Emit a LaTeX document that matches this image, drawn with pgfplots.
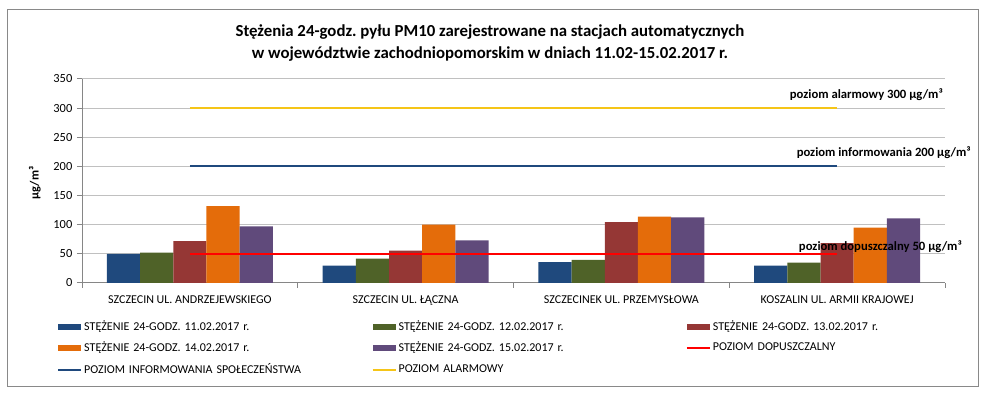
\documentclass[border=0pt]{standalone}
\usepackage{pgfplots}
\pgfplotsset{compat=1.18}
\usepackage{fontspec}
\setmainfont{Carlito}
\definecolor{c1}{HTML}{1F497D}
\definecolor{c2}{HTML}{4F6228}
\definecolor{c3}{HTML}{953735}
\definecolor{c4}{HTML}{E46C0A}
\definecolor{c5}{HTML}{604A7B}
\definecolor{lred}{HTML}{FF0000}
\definecolor{lblue}{HTML}{1F497D}
\definecolor{lyel}{HTML}{F5C518}
\definecolor{framec}{HTML}{898989}
\definecolor{axisc}{HTML}{868686}
\definecolor{gridc}{HTML}{C0C0C0}
\begin{document}
\frenchspacing
\begin{tikzpicture}[x=0.75pt,y=0.75pt]
\useasboundingbox (0,0) rectangle (988,399);
\draw[framec, line width=0.75pt] (7,12) rectangle (978,389);
\node[font=\bfseries\fontsize{12.6}{16.5}\selectfont, align=center] at (490,356) {Stężenia 24-godz. pyłu PM10 zarejestrowane na stacjach automatycznych\\ w województwie zachodniopomorskim w dniach 11.02-15.02.2017 r.};
\begin{axis}[
  at={(61.5pt,87pt)}, anchor=south west,
  width=647.25pt, height=153pt, scale only axis,
  xmin=-0.5, xmax=3.5, ymin=0, ymax=350,
  ytick={0,50,...,350},
  xtick={-0.5,0.5,1.5,2.5,3.5}, xticklabels={},
  extra x ticks={0,1,2,3},
  extra x tick labels={SZCZECIN UL. ANDRZEJEWSKIEGO, SZCZECIN UL. ŁĄCZNA, SZCZECINEK UL. PRZEMYSŁOWA, KOSZALIN UL. ARMII KRAJOWEJ},
  extra x tick style={major tick length=0pt, grid=none},
  axis lines*=left,
  axis line style={draw=axisc, line width=0.75pt},
  tick align=outside,
  major tick length=3.75pt,
  tick style={draw=axisc, line width=0.75pt},
  ymajorgrids, grid style={draw=gridc, line width=0.75pt},
  /pgf/number format/assume math mode=true,
  yticklabel style={font=\fontsize{9.3}{10}\selectfont},
  xticklabel style={font=\fontsize{9}{10}\selectfont, yshift=-6pt},
  ylabel={\textbf{µg/m³}},
  ylabel style={at={(axis description cs:-0.0545,0.49)}, anchor=center, font=\fontsize{9.3}{10}\selectfont},
  clip=false,
  legend columns=3,
  legend cell align=left,
  legend style={draw=none, fill=none, inner sep=0pt,
    at={(axis description cs:-0.0290,-0.17)}, anchor=north west,
    font=\fontsize{9}{10}\selectfont,
    row sep=3.3pt,
    nodes={text width=214pt, inner xsep=1.5pt}},
  barleg/.style={legend image code/.code={\fill[##1] (0pt,-2.25pt) rectangle (17.25pt,2.25pt);}},
  lineleg/.style={legend image code/.code={\draw[##1, line width=1.5pt] (0pt,0pt) -- (17.25pt,0pt);}},
]
\addplot[ybar, bar width=24.9pt, bar shift=-49.8pt, fill=c1, draw=none, barleg] coordinates {(0,50) (1,30) (2,36) (3,30)};
\addlegendentry{STĘŻENIE 24-GODZ. 11.02.2017 r.}
\addplot[ybar, bar width=24.9pt, bar shift=-24.9pt, fill=c2, draw=none, barleg] coordinates {(0,52) (1,42) (2,39.5) (3,35)};
\addlegendentry{STĘŻENIE 24-GODZ. 12.02.2017 r.}
\addplot[ybar, bar width=24.9pt, bar shift=0pt, fill=c3, draw=none, barleg] coordinates {(0,72) (1,55.5) (2,104.5) (3,68.5)};
\addlegendentry{STĘŻENIE 24-GODZ. 13.02.2017 r.}
\addplot[ybar, bar width=24.9pt, bar shift=24.9pt, fill=c4, draw=none, barleg] coordinates {(0,132) (1,100) (2,114) (3,95)};
\addlegendentry{STĘŻENIE 24-GODZ. 14.02.2017 r.}
\addplot[ybar, bar width=24.9pt, bar shift=49.8pt, fill=c5, draw=none, barleg] coordinates {(0,97) (1,73) (2,112.5) (3,111)};
\addlegendentry{STĘŻENIE 24-GODZ. 15.02.2017 r.}
\addplot[sharp plot, lred, line width=1.6pt, lineleg] coordinates {(0,50) (1,50) (2,50) (3,50)};
\addlegendentry{POZIOM DOPUSZCZALNY}
\addplot[sharp plot, lblue, line width=1.6pt, lineleg] coordinates {(0,200) (1,200) (2,200) (3,200)};
\addlegendentry{POZIOM INFORMOWANIA SPOŁECZEŃSTWA}
\addplot[sharp plot, lyel, line width=1.6pt, lineleg] coordinates {(0,300) (1,300) (2,300) (3,300)};
\addlegendentry{POZIOM ALARMOWY}
\node[anchor=east, font=\bfseries\fontsize{9.5}{11}\selectfont, inner sep=0pt] at (rel axis cs:0.9977,0.9214) {poziom alarmowy 300 µg/m³};
\node[anchor=east, font=\bfseries\fontsize{9.5}{11}\selectfont, inner sep=0pt] at (rel axis cs:1.030,0.637) {poziom informowania 200 µg/m³};
\node[anchor=east, font=\bfseries\fontsize{9.5}{11}\selectfont, inner sep=0pt] at (rel axis cs:1.0197,0.1766) {poziom dopuszczalny 50 µg/m³};
\end{axis}
\end{tikzpicture}
\end{document}
